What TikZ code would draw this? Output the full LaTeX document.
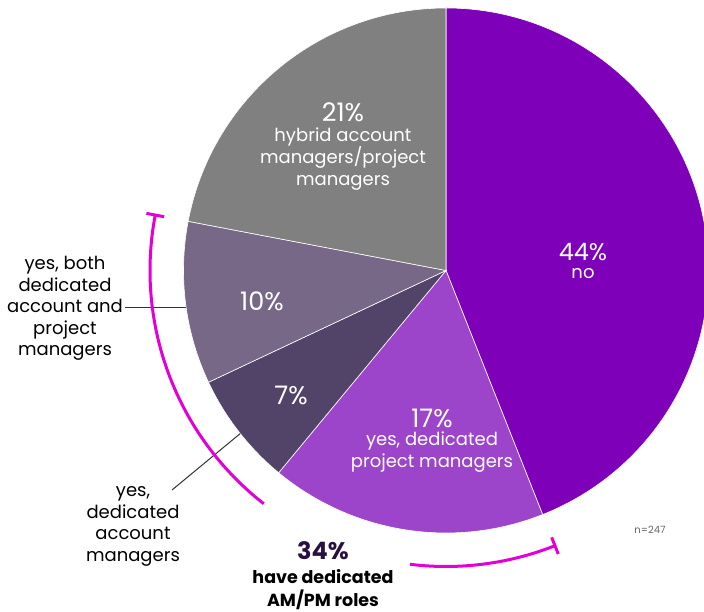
\documentclass[tikz,border=0pt]{standalone}
\usepackage{fontspec}
\setmainfont{Poppins}[Numbers=Monospaced]
\usetikzlibrary{positioning}
\definecolor{nopurple}{RGB}{126,0,184}
\definecolor{pmpurple}{RGB}{156,68,202}
\definecolor{amdark}{RGB}{82,67,104}
\definecolor{bothmauve}{RGB}{120,104,136}
\definecolor{hybridgray}{RGB}{128,128,128}
\definecolor{bracketpink}{RGB}{228,0,212}
\definecolor{darkplum}{RGB}{40,16,64}

\begin{document}
\begin{tikzpicture}[x=1pt, y=1pt,
  slice/.style={draw=white, line width=0.6pt},
  pct/.style={text=white, inner sep=0pt, font=\fontsize{25.5}{28}\selectfont},
  inlbl/.style={text=white, align=center, inner sep=0pt, font=\fontsize{18}{21.7}\selectfont},
  outlbl/.style={align=center, inner sep=2pt, font=\fontsize{18}{21.5}\selectfont},
  leader/.style={draw=black!80, line width=1pt},
  bracket/.style={draw=bracketpink, line width=3pt}]
\useasboundingbox (0,0) rectangle (704,612);
\coordinate (c) at (446,341.5);
\def\r{262.5}

% slices, clockwise from the top
\path[slice, fill=nopurple] (c) -- ++(90:\r) arc[start angle=90, end angle=-68.4, radius=\r] -- cycle;
\path[slice, fill=pmpurple] (c) -- ++(-68.4:\r) arc[start angle=-68.4, end angle=-129.6, radius=\r] -- cycle;
\path[slice, fill=amdark] (c) -- ++(-129.6:\r) arc[start angle=-129.6, end angle=-154.8, radius=\r] -- cycle;
\path[slice, fill=bothmauve] (c) -- ++(-154.8:\r) arc[start angle=-154.8, end angle=-190.8, radius=\r] -- cycle;
\path[slice, fill=hybridgray] (c) -- ++(-190.8:\r) arc[start angle=-190.8, end angle=-270, radius=\r] -- cycle;

\node[pct, font=\fontsize{24}{27}\selectfont] (no pct) at (583,360) {44\%};
\node[inlbl] (no lbl) at (583,338) {no};
\node[pct] (pm pct) at (432,194) {17\%};
\node[inlbl] (pm lbl) at (432,160) {yes, dedicated\\project managers};
\node[pct] (am pct) at (291,217) {7\%};
\node[pct] (both pct) at (262,311) {10\%};
\node[pct] (hy pct) at (343,500) {21\%};
\node[inlbl] (hy lbl) at (343,453) {hybrid account\\managers/project\\managers};

% outside labels
\node[outlbl] (both) at (65,303.5) {yes, both\\dedicated\\account and\\project\\managers};
\node[outlbl] (acc) at (133,85.5) {yes,\\dedicated\\account\\managers};
\path (c) ++(188.1:\r) coordinate (both edge);
\path (c) ++(218.4:\r) coordinate (acc edge);
\coordinate (acc tip) at (172,122);
\draw[leader] (both.east |- both edge) -- (both edge);
\draw[leader] (acc tip) -- (acc edge);

% 34% bracket
\draw[bracket] (c) ++(169.2:296) arc[start angle=169.2, end angle=232, radius=296];
\draw[bracket] (c) ++(263:296) arc[start angle=263, end angle=291.6, radius=296];
\draw[bracket] (c) ++(169.2:287) -- ++(169.2:18);
\draw[bracket] (c) ++(291.6:287) -- ++(291.6:18);
\node[text=darkplum, inner sep=0pt, font=\fontsize{24}{27}\selectfont\bfseries] (sum pct) at (323,61) {34\%};
\node[align=center, inner sep=0pt, font=\fontsize{17.5}{22.5}\selectfont\bfseries] (sum lbl) at (323,22.5) {have dedicated\\AM/PM roles};

\node[text=black!60, font=\fontsize{10}{12}\selectfont] (n) at (650,82) {n=247};
\end{tikzpicture}
\end{document}
